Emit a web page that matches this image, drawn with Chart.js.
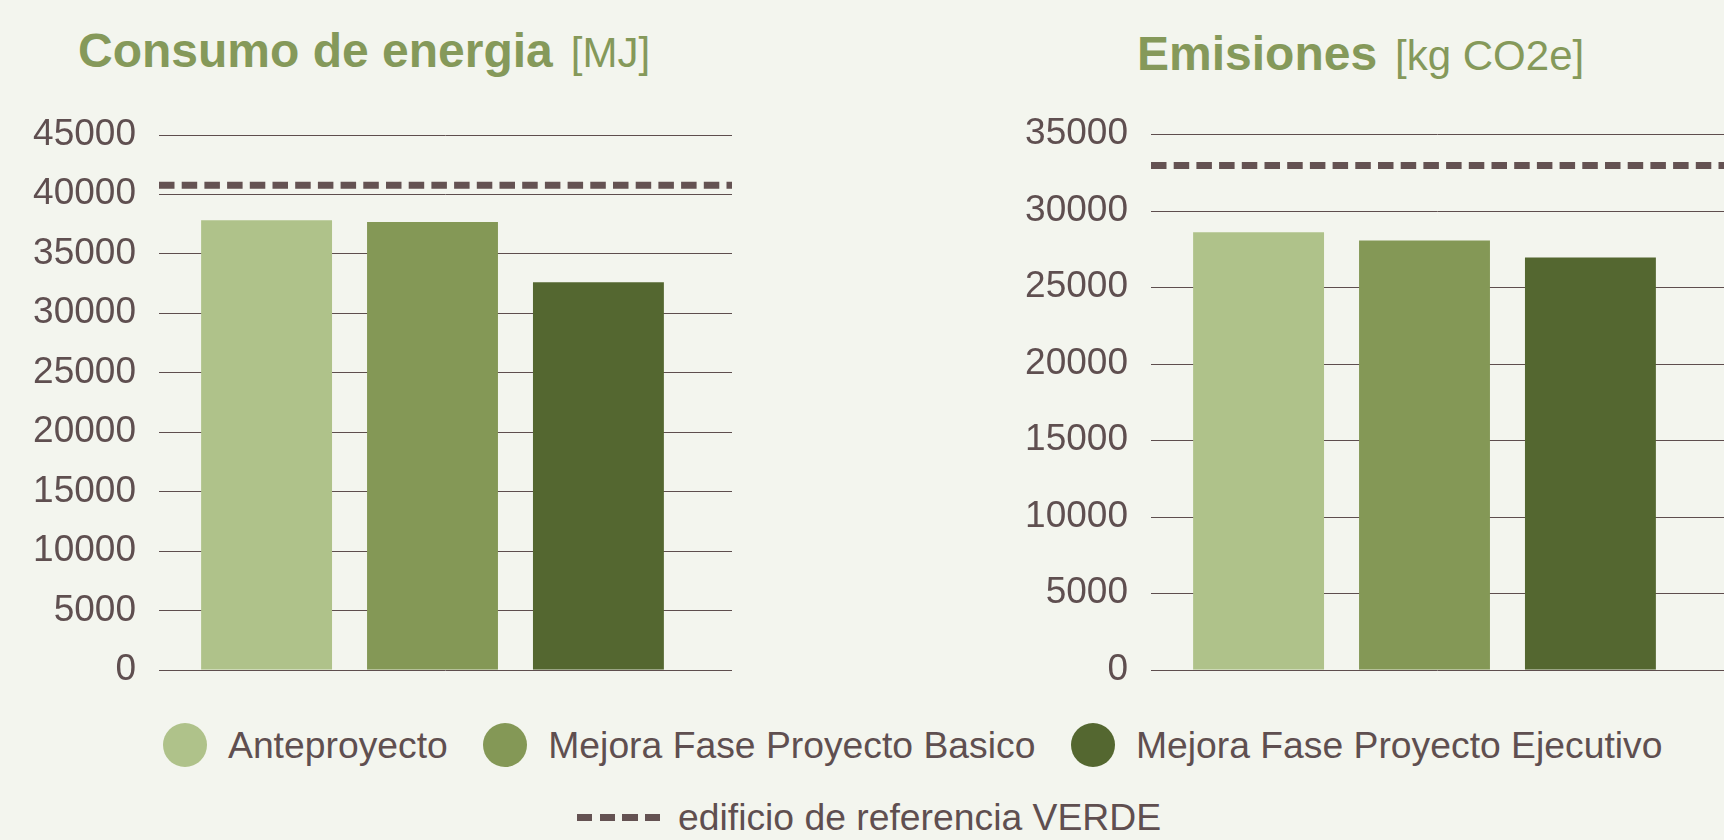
<!DOCTYPE html>
<html>
<head>
<meta charset="utf-8">
<script src="https://cdn.jsdelivr.net/npm/chart.js@4/dist/chart.umd.min.js"></script>
<style>
    html, body { margin: 0; padding: 0; }
    body {
        width: 1724px; height: 840px; overflow: hidden; position: relative;
        background: #f3f5ee; font-family: "Liberation Sans", Arial, sans-serif; color: #5f4f50;
    }
    .title { position: absolute; white-space: nowrap; line-height: 48px; color: #85995a; }
    .title b { font-size: 48px; font-weight: bold; }
    .title span { font-size: 42px; margin-left: 18px; }
    .box { position: absolute; top: 0; height: 715px; }
    .legend { position: absolute; display: flex; align-items: center; white-space: nowrap; font-size: 37.3px; }
    .dot { width: 44px; height: 44px; border-radius: 50%; margin-right: 21px; }
    .item { display: flex; align-items: center; margin-right: 35.5px; line-height: 44px; }
    .dash {
        width: 83px; height: 7px; margin-right: 18px;
        background: repeating-linear-gradient(to right, #645252 0 15.5px, transparent 15.5px 22.7px);
    }
</style>
</head>
<body>

<div class="title" style="left: 78px; top: 27px;"><b>Consumo de energia</b><span>[MJ]</span></div>
<div class="title" style="left: 1137px; top: 30px;"><b>Emisiones</b><span>[kg CO2e]</span></div>

<div class="box" style="left: 0; width: 760px;"><canvas id="energyChart"></canvas></div>
<div class="box" style="left: 960px; width: 764px;"><canvas id="emissionChart"></canvas></div>

<div class="legend" id="legendBars" style="left: 163px; top: 723px;"></div>
<div class="legend" style="left: 577px; top: 795px; line-height: 44px;">
    <div class="dash"></div><span>edificio de referencia VERDE</span>
</div>

<script>
// Data
const phases = ['Anteproyecto', 'Mejora Fase Proyecto Basico', 'Mejora Fase Proyecto Ejecutivo'];
const phaseColors = ['#afc28a', '#849856', '#546730'];
const energyValues = [37800, 37650, 32580];
const emissionValues = [28580, 28050, 26940];
const energyReference = 40740;
const emissionReference = 32950;
const referenceLabel = 'edificio de referencia VERDE';

const gridColor = '#5e4e4e';
const textColor = '#5f4f50';

// Grid lines + dashed reference line, drawn through the y scale
const extendedGrid = {
    id: 'extendedGrid',
    beforeDatasetsDraw(chart, args, opts) {
        const { ctx, chartArea } = chart;
        const y = chart.scales.y;
        ctx.save();
        ctx.strokeStyle = gridColor;
        ctx.lineWidth = 1;
        y.ticks.forEach((t, i) => {
            const py = Math.round(y.getPixelForTick(i)) + 0.5;
            ctx.beginPath();
            ctx.moveTo(chartArea.left, py);
            ctx.lineTo(chartArea.right + opts.extra, py);
            ctx.stroke();
        });
        ctx.restore();
    },
    afterDatasetsDraw(chart, args, opts) {
        const { ctx, chartArea } = chart;
        const py = chart.scales.y.getPixelForValue(opts.reference);
        ctx.save();
        ctx.strokeStyle = '#645252';
        ctx.lineWidth = 7;
        ctx.setLineDash([15.5, 7.2]);
        ctx.beginPath();
        ctx.moveTo(chartArea.left, py);
        ctx.lineTo(chartArea.right + opts.extra, py);
        ctx.stroke();
        ctx.restore();
    }
};

function makeChart(id, values, max, reference, padding, extra) {
    return new Chart(document.getElementById(id), {
        type: 'bar',
        data: {
            labels: [''],
            datasets: phases.map((name, i) => ({
                label: name,
                data: [values[i]],
                backgroundColor: phaseColors[i],
                borderWidth: 0,
                barPercentage: 0.789,
                categoryPercentage: 0.91
            }))
        },
        options: {
            responsive: true,
            maintainAspectRatio: false,
            animation: false,
            layout: { padding: padding },
            plugins: {
                legend: { display: false },
                tooltip: { enabled: false },
                extendedGrid: { reference: reference, extra: extra }
            },
            scales: {
                x: { display: false },
                y: {
                    min: 0,
                    max: max,
                    border: { display: false },
                    grid: { display: false, drawTicks: false },
                    afterFit: (scale) => { scale.width = 140; },
                    ticks: {
                        stepSize: 5000,
                        padding: 23,
                        color: textColor,
                        font: { family: '"Liberation Sans", Arial, sans-serif', size: 37 },
                        callback: (v) => String(v)
                    }
                }
            }
        },
        plugins: [extendedGrid]
    });
}

makeChart('energyChart', energyValues, 45000, energyReference,
    { left: 19, right: 54, top: 134.5, bottom: 23 }, 26);
makeChart('emissionChart', emissionValues, 35000, emissionReference,
    { left: 51, right: 26, top: 134, bottom: 25 }, 26);

// Legend
document.getElementById('legendBars').innerHTML = phases.map((name, i) => `
    <div class="item"><div class="dot" style="background:${phaseColors[i]}"></div><span>${name}</span></div>
`).join('');
</script>
</body>
</html>
